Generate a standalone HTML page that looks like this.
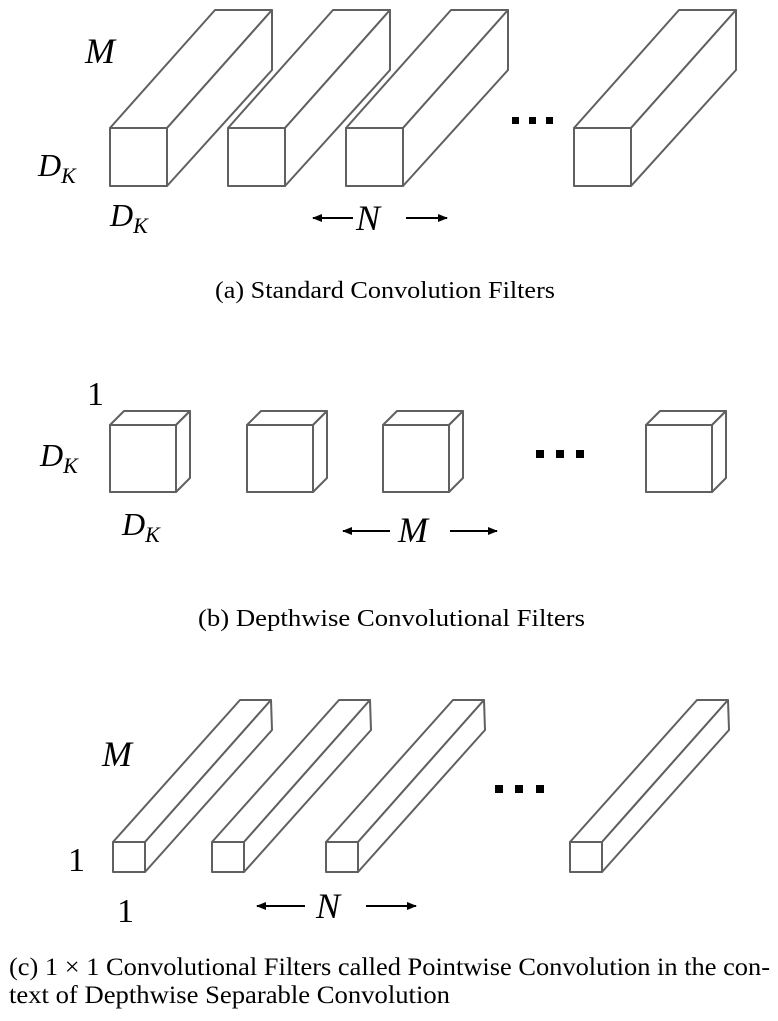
<!DOCTYPE html>
<html><head><meta charset="utf-8"><style>
html,body{margin:0;padding:0;background:#fff;}
svg{display:block;}
.m{font-family:"Liberation Serif",serif;font-style:italic;fill:#000;}
.r{font-family:"Liberation Serif",serif;fill:#000;}
.b{fill:#fff;stroke:#606060;stroke-width:2;stroke-linejoin:round;}
</style></head><body>
<svg width="778" height="1021" viewBox="0 0 778 1021" xmlns="http://www.w3.org/2000/svg">
<defs>
<marker id="ah" markerWidth="10" markerHeight="8" refX="9" refY="4" orient="auto" markerUnits="userSpaceOnUse"><path d="M0,0 L10,4 L0,8 z" fill="#000"/></marker>
</defs>
<!-- Panel a -->
<g class="b">
<g><polygon points="110,128 215,10 272,10 167,128"/><polygon points="167,128 272,10 272,70 167,186"/><rect x="110" y="128" width="57" height="58"/></g>
<g transform="translate(118,0)"><polygon points="110,128 215,10 272,10 167,128"/><polygon points="167,128 272,10 272,70 167,186"/><rect x="110" y="128" width="57" height="58"/></g>
<g transform="translate(236,0)"><polygon points="110,128 215,10 272,10 167,128"/><polygon points="167,128 272,10 272,70 167,186"/><rect x="110" y="128" width="57" height="58"/></g>
<g transform="translate(464,0)"><polygon points="110,128 215,10 272,10 167,128"/><polygon points="167,128 272,10 272,70 167,186"/><rect x="110" y="128" width="57" height="58"/></g>
</g>
<rect x="512" y="117" width="7" height="7"/><rect x="529" y="117" width="7" height="7"/><rect x="546" y="117" width="7" height="7"/>
<text class="m" x="85" y="63" font-size="36">M</text>
<text class="m" x="38" y="176" font-size="32">D<tspan font-size="22" dy="7">K</tspan></text>
<text class="m" x="110" y="226" font-size="32">D<tspan font-size="22" dy="7">K</tspan></text>
<line x1="353" y1="218" x2="313" y2="218" stroke="#000" stroke-width="2" marker-end="url(#ah)"/>
<text class="m" x="356" y="230" font-size="36">N</text>
<line x1="406" y1="218" x2="447" y2="218" stroke="#000" stroke-width="2" marker-end="url(#ah)"/>
<text class="r" x="215" y="298" font-size="24" textLength="340" lengthAdjust="spacingAndGlyphs">(a)  Standard Convolution Filters</text>
<!-- Panel b -->
<g class="b">
<g><polygon points="110,425 124,411 190,411 176,425"/><polygon points="176,425 190,411 190,478 176,492"/><rect x="110" y="425" width="66" height="67"/></g>
<g transform="translate(137,0)"><polygon points="110,425 124,411 190,411 176,425"/><polygon points="176,425 190,411 190,478 176,492"/><rect x="110" y="425" width="66" height="67"/></g>
<g transform="translate(273,0)"><polygon points="110,425 124,411 190,411 176,425"/><polygon points="176,425 190,411 190,478 176,492"/><rect x="110" y="425" width="66" height="67"/></g>
<g transform="translate(536,0)"><polygon points="110,425 124,411 190,411 176,425"/><polygon points="176,425 190,411 190,478 176,492"/><rect x="110" y="425" width="66" height="67"/></g>
</g>
<rect x="536" y="450" width="8" height="8"/><rect x="556" y="450" width="8" height="8"/><rect x="576" y="450" width="8" height="8"/>
<text class="r" x="87" y="405" font-size="34">1</text>
<text class="m" x="40" y="466" font-size="32">D<tspan font-size="22" dy="7">K</tspan></text>
<text class="m" x="122" y="535" font-size="32">D<tspan font-size="22" dy="7">K</tspan></text>
<line x1="390" y1="531" x2="343" y2="531" stroke="#000" stroke-width="2" marker-end="url(#ah)"/>
<text class="m" x="398" y="542" font-size="36">M</text>
<line x1="450" y1="531" x2="497" y2="531" stroke="#000" stroke-width="2" marker-end="url(#ah)"/>
<text class="r" x="198" y="626" font-size="24" textLength="387" lengthAdjust="spacingAndGlyphs">(b)  Depthwise Convolutional Filters</text>
<!-- Panel c -->
<g class="b">
<g><polygon points="113,842 240,700 271,700 145,842"/><polygon points="145,842 271,700 272,730 145,872"/><rect x="113" y="842" width="32" height="30"/></g>
<g transform="translate(99,0)"><polygon points="113,842 240,700 271,700 145,842"/><polygon points="145,842 271,700 272,730 145,872"/><rect x="113" y="842" width="32" height="30"/></g>
<g transform="translate(213,0)"><polygon points="113,842 240,700 271,700 145,842"/><polygon points="145,842 271,700 272,730 145,872"/><rect x="113" y="842" width="32" height="30"/></g>
<g transform="translate(457,0)"><polygon points="113,842 240,700 271,700 145,842"/><polygon points="145,842 271,700 272,730 145,872"/><rect x="113" y="842" width="32" height="30"/></g>
</g>
<rect x="495" y="785" width="8" height="8"/><rect x="515" y="785" width="8" height="8"/><rect x="536" y="785" width="8" height="8"/>
<text class="m" x="102" y="766" font-size="36">M</text>
<text class="r" x="68" y="871" font-size="34">1</text>
<text class="r" x="117" y="922" font-size="34">1</text>
<line x1="305" y1="906" x2="257" y2="906" stroke="#000" stroke-width="2" marker-end="url(#ah)"/>
<text class="m" x="316" y="918" font-size="36">N</text>
<line x1="366" y1="906" x2="416" y2="906" stroke="#000" stroke-width="2" marker-end="url(#ah)"/>
<text class="r" x="9" y="975" font-size="25" textLength="761" lengthAdjust="spacingAndGlyphs">(c)  1 × 1 Convolutional Filters called Pointwise Convolution in the con-</text>
<text class="r" x="9" y="1003" font-size="25" textLength="441" lengthAdjust="spacingAndGlyphs">text of Depthwise Separable Convolution</text>
</svg>
</body></html>
